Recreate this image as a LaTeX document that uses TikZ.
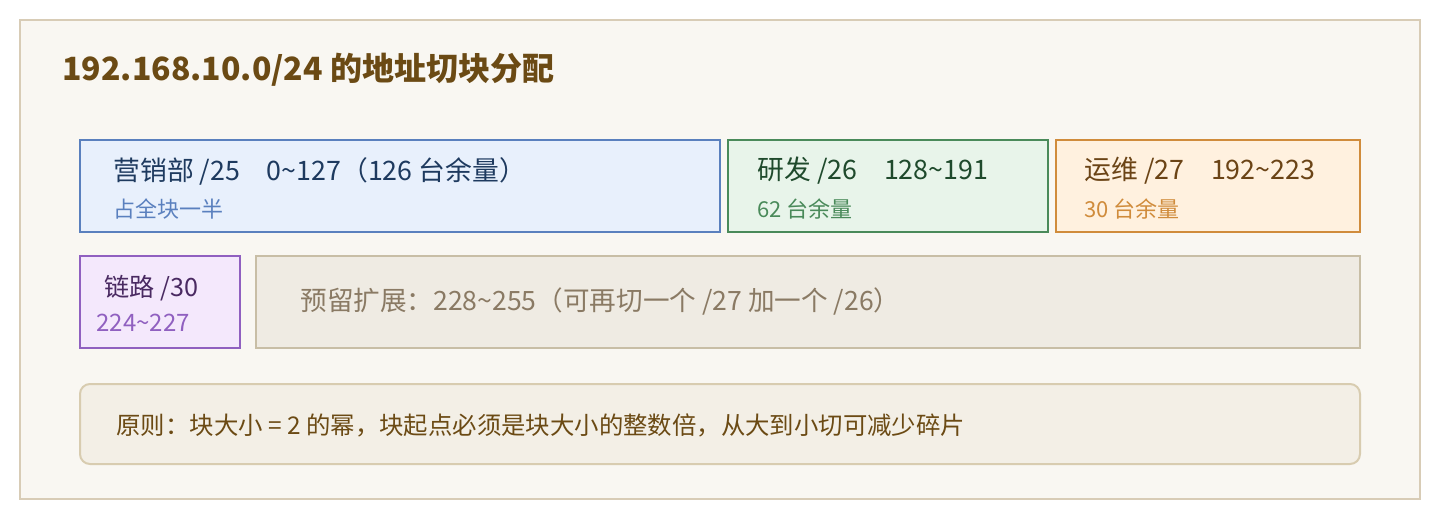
\documentclass[tikz,border=0pt]{standalone}
\usepackage{fontspec}
\setmainfont{Noto Sans CJK SC}
\definecolor{paper}{HTML}{F9F7F2}
\definecolor{frameline}{HTML}{D8CCB6}
\definecolor{titlebrown}{HTML}{6B4A14}
\definecolor{mktfill}{HTML}{E8F0FC}
\definecolor{mktline}{HTML}{5A80BE}
\definecolor{mkttext}{HTML}{1E3A5F}
\definecolor{rdfill}{HTML}{E8F4EA}
\definecolor{rdline}{HTML}{4A8A5A}
\definecolor{rdtext}{HTML}{1F4A2C}
\definecolor{opsfill}{HTML}{FFF1DF}
\definecolor{opsline}{HTML}{D08C3C}
\definecolor{opstext}{HTML}{6B4416}
\definecolor{linkfill}{HTML}{F4E8FC}
\definecolor{linkline}{HTML}{9060C0}
\definecolor{linktext}{HTML}{4A2A62}
\definecolor{resfill}{HTML}{EFEBE3}
\definecolor{resline}{HTML}{C8BEA6}
\definecolor{restext}{HTML}{8A7A64}
\definecolor{rulefill}{HTML}{F3EFE6}
\definecolor{ruleline}{HTML}{D8CCB0}
\definecolor{ruletext}{HTML}{6B4A14}
\tikzset{
  block/.style={line width=1pt},
  txt/.style={anchor=west, inner sep=0pt, font=\fontsize{13.4}{16}\selectfont},
  subtxt/.style={anchor=west, inner sep=0pt, font=\fontsize{11}{13}\selectfont}
}

\begin{document}
\begin{tikzpicture}[x=0.5pt, y=-0.5pt]
\useasboundingbox (0,0) rectangle (1440,520);
\draw [block, draw=frameline, fill=paper] (20,20) rectangle (1420,499);
\node (title) [txt, font=\bfseries\fontsize{16}{19}\selectfont, text=titlebrown]
at (62,70) {192.168.10.0/24 的地址切块分配};
% first row: /25 /26 /27
\draw [block, draw=mktline, fill=mktfill] (80,140) rectangle (720,232);
\node (mkt) [txt, text=mkttext] at (113,171)
{营销部 /25\quad 0\textasciitilde127（126 台余量）};
\node (mktsub) [subtxt, text=mktline] at (113,209) {占全块一半};
\draw [block, draw=rdline, fill=rdfill] (728,140) rectangle (1048,232);
\node (rd) [txt, text=rdtext] at (757,171) {研发 /26\quad 128\textasciitilde191};
\node (rdsub) [subtxt, text=rdline] at (757,209) {62 台余量};
\draw [block, draw=opsline, fill=opsfill] (1056,140) rectangle (1360,232);
\node (ops) [txt, text=opstext] at (1084,171) {运维 /27\quad 192\textasciitilde223};
\node (opssub) [subtxt, text=opsline] at (1084,209) {30 台余量};
% second row: /30 and the rest
\draw [block, draw=linkline, fill=linkfill] (80,256) rectangle (240,348);
\node (link) [txt, font=\fontsize{12.6}{15}\selectfont, text=linktext] at (104,288) {链路 /30};
\node (linksub) [subtxt, font=\fontsize{12}{14}\selectfont, text=linkline] at (96,323) {224\textasciitilde227};
\draw [block, draw=resline, fill=resfill] (256,256) rectangle (1360,348);
\node (reserve) [txt, font=\fontsize{13.3}{16}\selectfont, text=restext] at (300,301)
{预留扩展：228\textasciitilde255（可再切一个 /27 加一个 /26）};
% rule
\draw [block, draw=ruleline, fill=rulefill, rounded corners=5pt] (80,384) rectangle (1360,464);
\node (rule) [txt, font=\fontsize{12.2}{14}\selectfont, text=ruletext] at (116,425)
{原则：块大小 = 2 的幂，块起点必须是块大小的整数倍，从大到小切可减少碎片};
\end{tikzpicture}
\end{document}
